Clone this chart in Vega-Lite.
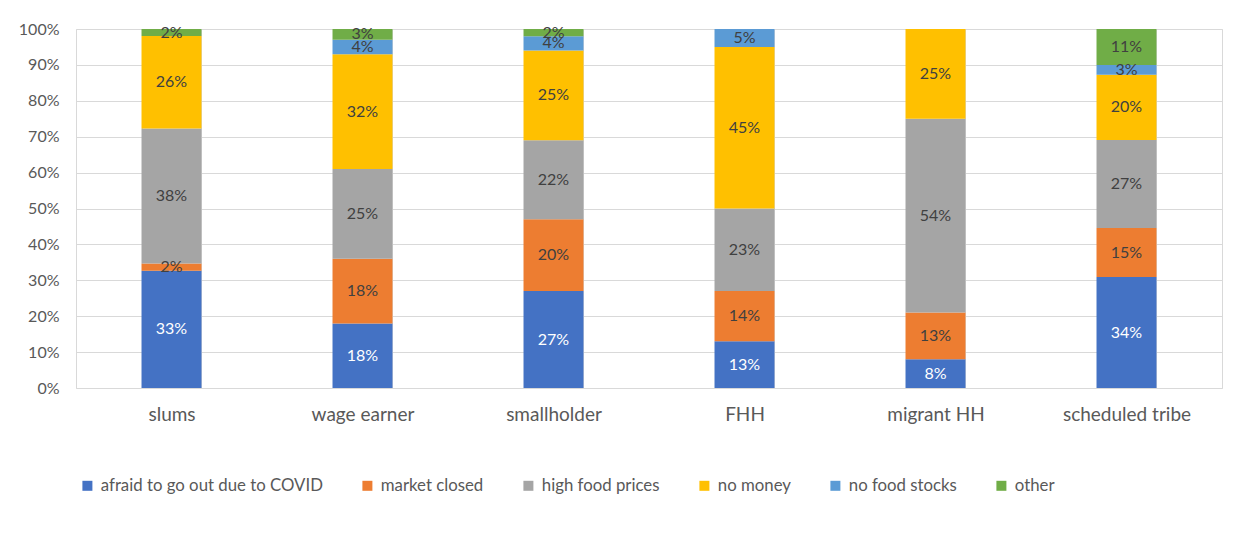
{
  "$schema": "https://vega.github.io/schema/vega-lite/v6.json",
  "width": 1146,
  "height": 359,
  "autosize": {"type": "none"},
  "padding": {"left": 76, "top": 29, "right": 12, "bottom": 145},
  "background": "white",
  "config": {
    "font": "Lato",
    "view": {"stroke": "#D9D9D9", "strokeWidth": 1}
  },
  "data": {
    "values": [
      {"group": "slums", "reason": "afraid to go out due to COVID", "value": 0.33},
      {"group": "slums", "reason": "market closed", "value": 0.02},
      {"group": "slums", "reason": "high food prices", "value": 0.38},
      {"group": "slums", "reason": "no money", "value": 0.26},
      {"group": "slums", "reason": "other", "value": 0.02},
      {"group": "wage earner", "reason": "afraid to go out due to COVID", "value": 0.18},
      {"group": "wage earner", "reason": "market closed", "value": 0.18},
      {"group": "wage earner", "reason": "high food prices", "value": 0.25},
      {"group": "wage earner", "reason": "no money", "value": 0.32},
      {"group": "wage earner", "reason": "no food stocks", "value": 0.04},
      {"group": "wage earner", "reason": "other", "value": 0.03},
      {"group": "smallholder", "reason": "afraid to go out due to COVID", "value": 0.27},
      {"group": "smallholder", "reason": "market closed", "value": 0.20},
      {"group": "smallholder", "reason": "high food prices", "value": 0.22},
      {"group": "smallholder", "reason": "no money", "value": 0.25},
      {"group": "smallholder", "reason": "no food stocks", "value": 0.04},
      {"group": "smallholder", "reason": "other", "value": 0.02},
      {"group": "FHH", "reason": "afraid to go out due to COVID", "value": 0.13},
      {"group": "FHH", "reason": "market closed", "value": 0.14},
      {"group": "FHH", "reason": "high food prices", "value": 0.23},
      {"group": "FHH", "reason": "no money", "value": 0.45},
      {"group": "FHH", "reason": "no food stocks", "value": 0.05},
      {"group": "migrant HH", "reason": "afraid to go out due to COVID", "value": 0.08},
      {"group": "migrant HH", "reason": "market closed", "value": 0.13},
      {"group": "migrant HH", "reason": "high food prices", "value": 0.54},
      {"group": "migrant HH", "reason": "no money", "value": 0.25},
      {"group": "scheduled tribe", "reason": "afraid to go out due to COVID", "value": 0.34},
      {"group": "scheduled tribe", "reason": "market closed", "value": 0.15},
      {"group": "scheduled tribe", "reason": "high food prices", "value": 0.27},
      {"group": "scheduled tribe", "reason": "no money", "value": 0.20},
      {"group": "scheduled tribe", "reason": "no food stocks", "value": 0.03},
      {"group": "scheduled tribe", "reason": "other", "value": 0.11}
    ]
  },
  "transform": [
    {"stack": "value", "groupby": ["group"], "offset": "normalize", "as": ["y0", "y1"]},
    {"calculate": "(datum.y0 + datum.y1) / 2", "as": "ymid"}
  ],
  "encoding": {
    "x": {
      "field": "group",
      "type": "nominal",
      "sort": ["slums", "wage earner", "smallholder", "FHH", "migrant HH", "scheduled tribe"],
      "scale": {"paddingInner": 0.686, "paddingOuter": 0.343},
      "axis": {
        "title": null,
        "labelAngle": 0,
        "labelFontSize": 19,
        "labelColor": "#595959",
        "labelPadding": 17,
        "ticks": false,
        "tickSize": 0,
        "domain": false,
        "grid": true,
        "tickBand": "extent",
        "gridColor": "#D9D9D9"
      }
    }
  },
  "layer": [
    {
      "mark": {"type": "bar"},
      "encoding": {
        "y": {
          "field": "y0",
          "type": "quantitative",
          "scale": {"domain": [0, 1], "nice": false},
          "axis": {
            "title": null,
            "format": ".0%",
            "values": [0, 0.1, 0.2, 0.3, 0.4, 0.5, 0.6, 0.7, 0.8, 0.9, 1],
            "labelFontSize": 16,
            "labelColor": "#595959",
            "labelPadding": 17,
            "labelOverlap": false,
            "ticks": false,
            "tickSize": 0,
            "domain": false,
            "grid": true,
            "gridColor": "#D9D9D9"
          }
        },
        "y2": {"field": "y1"},
        "color": {
          "field": "reason",
          "type": "nominal",
          "scale": {
            "domain": ["afraid to go out due to COVID", "market closed", "high food prices", "no money", "no food stocks", "other"],
            "range": ["#4472C4", "#ED7D31", "#A5A5A5", "#FFC000", "#5B9BD5", "#70AD47"]
          },
          "legend": {
            "title": null,
            "orient": "none",
            "legendX": 3,
            "legendY": 448,
            "direction": "horizontal",
            "columnPadding": 36,
            "symbolType": "square",
            "symbolSize": 100,
            "symbolStrokeWidth": 0,
            "labelFontSize": 16.8,
            "labelLimit": 0,
            "labelColor": "#595959",
            "labelOffset": 5
          }
        }
      }
    },
    {
      "mark": {"type": "text", "fontSize": 16, "baseline": "middle", "align": "center"},
      "encoding": {
        "y": {
          "field": "ymid",
          "type": "quantitative",
          "axis": {
            "title": null,
            "format": ".0%",
            "values": [0, 0.1, 0.2, 0.3, 0.4, 0.5, 0.6, 0.7, 0.8, 0.9, 1],
            "labelFontSize": 16,
            "labelColor": "#595959",
            "labelPadding": 17,
            "labelOverlap": false,
            "ticks": false,
            "tickSize": 0,
            "domain": false,
            "grid": true,
            "gridColor": "#D9D9D9"
          }
        },
        "text": {"field": "value", "type": "quantitative", "format": ".0%"},
        "color": {
          "condition": {"test": "datum.reason === 'afraid to go out due to COVID'", "value": "#FFFFFF"},
          "value": "#404040"
        }
      }
    }
  ]
}
